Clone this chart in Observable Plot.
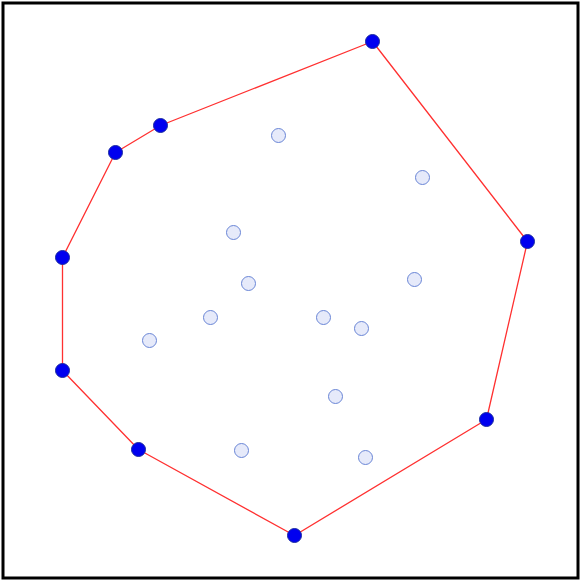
<!DOCTYPE html>
<html>
<head>
<meta charset="utf-8">
<script src="https://cdn.jsdelivr.net/npm/d3@7"></script>
<script src="https://cdn.jsdelivr.net/npm/@observablehq/plot@0.6"></script>
<style>
  html, body { margin: 0; padding: 0; background: #fff; }
</style>
</head>
<body>
<div id="chart"></div>
<script>
const hullX = [372, 527, 486, 294, 138, 62, 62, 115, 160];
const hullY = [41, 241, 419, 535, 449, 370, 257, 152, 125];
const innerX = [278, 422, 233, 248, 414, 210, 323, 361, 149, 335, 241, 365];
const innerY = [135, 177, 232, 283, 279, 317, 317, 328, 340, 396, 450, 457];

const hullPts = hullX.map((x, i) => ({x, y: hullY[i]}));
const innerPts = innerX.map((x, i) => ({x, y: innerY[i]}));
const allPts = hullPts.concat(innerPts);

const chart = Plot.plot({
  width: 580,
  height: 580,
  margin: 0,
  x: {domain: [0, 580], axis: null},
  y: {domain: [580, 0], axis: null},
  marks: [
    Plot.hull(allPts, {x: "x", y: "y", stroke: "#ff3030", strokeWidth: 1.3}),
    Plot.dot(innerPts, {x: "x", y: "y", r: 7, fill: "#e6eafa", stroke: "#6a86d6", strokeWidth: 1}),
    Plot.dot(hullPts, {x: "x", y: "y", r: 7, fill: "#0000f0", stroke: "#1a2aa0", strokeWidth: 1}),
    Plot.frame({stroke: "black", strokeWidth: 3, inset: 2.5})
  ]
});
document.getElementById("chart").appendChild(chart);
</script>
</body>
</html>
